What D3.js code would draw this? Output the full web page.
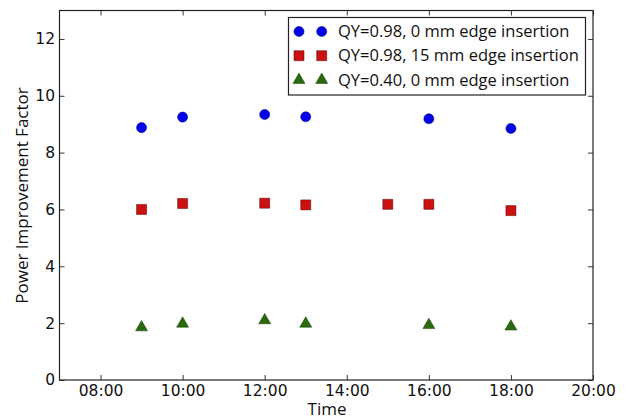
<!DOCTYPE html>
<html>
<head>
<meta charset="utf-8">
<script src="https://cdn.jsdelivr.net/npm/d3@7"></script>
<style>
  html, body { margin: 0; padding: 0; background: #fff; }
  svg { display: block; }
</style>
</head>
<body>
<svg id="chart" width="626" height="418"></svg>
<script>
// Measurement times (hour of day)
const hoursCircle = [9, 10, 12, 13, 16, 18];
const hoursSquare = [9, 10, 12, 13, 15, 16, 18];
const hoursTriangle = [9, 10, 12, 13, 16, 18];

// Power improvement factor per configuration
const qy098edge0 = [8.88, 9.25, 9.34, 9.26, 9.19, 8.85];
const qy098edge15 = [6.0, 6.21, 6.22, 6.16, 6.18, 6.18, 5.96];
const qy040edge0 = [1.85, 1.98, 2.1, 1.98, 1.93, 1.88];

const seriesNames = [
  "QY=0.98, 0 mm edge insertion",
  "QY=0.98, 15 mm edge insertion",
  "QY=0.40, 0 mm edge insertion"
];

const xTickHours = [8, 10, 12, 14, 16, 18, 20];
const yTicks = [0, 2, 4, 6, 8, 10, 12];

const svg = d3.select("#chart");
const margin = { left: 59.5, top: 10.5, right: 33, bottom: 38 };
const W = 626, H = 418;
const plotW = W - margin.left - margin.right;
const plotH = H - margin.top - margin.bottom;

const x = d3.scaleLinear().domain([7, 20]).range([margin.left, margin.left + plotW]);
const y = d3.scaleLinear().domain([0, 13]).range([margin.top + plotH, margin.top]);

const fmtHour = h => String(h).padStart(2, "0") + ":00";
const tickFont = "DejaVu Sans, sans-serif";
const labelFont = "'Open Sans', Lato, sans-serif";

// Axes with inward ticks on all four sides
const axB = d3.axisBottom(x).tickValues(xTickHours).tickFormat(fmtHour).tickSizeInner(-5).tickSizeOuter(0).tickPadding(5);
const axT = d3.axisTop(x).tickValues(xTickHours).tickFormat("").tickSizeInner(-5).tickSizeOuter(0);
const axL = d3.axisLeft(y).tickValues(yTicks).tickFormat(d3.format("d")).tickSizeInner(-5).tickSizeOuter(0).tickPadding(4.5);
const axR = d3.axisRight(y).tickValues(yTicks).tickFormat("").tickSizeInner(-5).tickSizeOuter(0);

function styleAxis(g) {
  g.select(".domain").remove();
  g.selectAll(".tick line").attr("stroke", "#000").attr("stroke-width", 0.8);
  g.selectAll(".tick text").attr("font-family", tickFont).attr("font-size", 15.5).attr("fill", "#111");
}

svg.append("g").attr("transform", `translate(0,${margin.top + plotH})`).call(axB).call(styleAxis);
svg.append("g").attr("transform", `translate(0,${margin.top})`).call(axT).call(styleAxis);
svg.append("g").attr("transform", `translate(${margin.left},0)`).call(axL).call(styleAxis);
svg.append("g").attr("transform", `translate(${margin.left + plotW},0)`).call(axR).call(styleAxis);

// Plot frame
svg.append("rect")
  .attr("x", margin.left).attr("y", margin.top)
  .attr("width", plotW).attr("height", plotH)
  .attr("fill", "none").attr("stroke", "#222").attr("stroke-width", 1.2);

// Axis titles
svg.append("text")
  .attr("x", 327).attr("y", 414.5)
  .attr("text-anchor", "middle")
  .attr("font-family", labelFont).attr("font-size", 17).attr("fill", "#111")
  .text("Time");

svg.append("text")
  .attr("transform", `translate(28,${(83 + 308) / 2}) rotate(-90)`)
  .attr("text-anchor", "middle")
  .attr("font-family", labelFont).attr("font-size", 17).attr("fill", "#111")
  .text("Power Improvement Factor");

// Marker drawing helpers
const markerStyles = [
  { shape: d3.symbolCircle, size: 80, fill: "#0000ee", stroke: "#000055" },
  { shape: d3.symbolSquare, size: 100, fill: "#cc1111", stroke: "#550000" },
  { shape: d3.symbolTriangle, size: 62, fill: "#2a6a0e", stroke: "#153a05" }
];

function drawMarkers(g, hours, values, style) {
  const sym = d3.symbol().type(style.shape).size(style.size);
  g.selectAll(null)
    .data(hours.map((h, i) => [h, values[i]]))
    .join("path")
    .attr("d", sym)
    .attr("transform", d => `translate(${x(d[0])},${y(d[1])})`)
    .attr("fill", style.fill)
    .attr("stroke", style.stroke)
    .attr("stroke-width", 0.5);
}

const marks = svg.append("g");
drawMarkers(marks.append("g"), hoursCircle, qy098edge0, markerStyles[0]);
drawMarkers(marks.append("g"), hoursSquare, qy098edge15, markerStyles[1]);
drawMarkers(marks.append("g"), hoursTriangle, qy040edge0, markerStyles[2]);

// Legend (two sample markers per entry)
const legend = svg.append("g");
legend.append("rect")
  .attr("x", 288.5).attr("y", 17.5).attr("width", 297).attr("height", 77.5)
  .attr("fill", "#fff").attr("stroke", "#222").attr("stroke-width", 1.2);

const rowY = [31.5, 55.7, 80];
seriesNames.forEach((name, i) => {
  const st = markerStyles[i];
  const sym = d3.symbol().type(st.shape).size(st.size);
  [299, 321.7].forEach(mx => {
    legend.append("path")
      .attr("d", sym)
      .attr("transform", `translate(${mx},${rowY[i]})`)
      .attr("fill", st.fill).attr("stroke", st.stroke).attr("stroke-width", 0.5);
  });
  legend.append("text")
    .attr("x", 338).attr("y", rowY[i])
    .attr("dy", "0.35em")
    .attr("font-family", labelFont).attr("font-size", 16.5).attr("fill", "#111")
    .text(name);
});
</script>
</body>
</html>
